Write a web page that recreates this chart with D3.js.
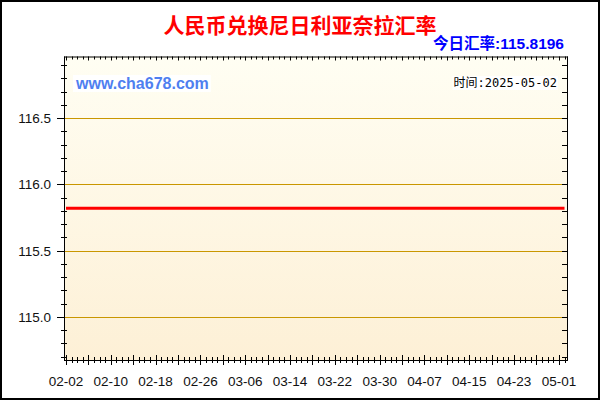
<!DOCTYPE html>
<html><head><meta charset="utf-8">
<script src="https://cdn.jsdelivr.net/npm/d3@7"></script>
<style>body{margin:0;background:#fff}svg{display:block}</style>
</head><body>
<svg id="c" width="600" height="400"></svg>
<script>
const title = "人民币兑换尼日利亚奈拉汇率";
const todayLabel = "今日汇率:115.8196";
const siteLabel = "www.cha678.com";
const timeLabel = "时间:2025-05-02";
const startDate = "2025-02-02";
const endDate = "2025-05-02";
const xTickLabels = ["02-02","02-10","02-18","02-26","03-06","03-14","03-22","03-30","04-07","04-15","04-23","05-01"];
const yTickLabels = [115.0, 115.5, 116.0, 116.5];
const yDomain = [114.674, 116.965];
// daily rates 02-02 .. 05-02 (flat)
const rates = [
115.8196,115.8196,115.8196,115.8196,115.8196,115.8196,115.8196,115.8196,115.8196,115.8196,
115.8196,115.8196,115.8196,115.8196,115.8196,115.8196,115.8196,115.8196,115.8196,115.8196,
115.8196,115.8196,115.8196,115.8196,115.8196,115.8196,115.8196,115.8196,115.8196,115.8196,
115.8196,115.8196,115.8196,115.8196,115.8196,115.8196,115.8196,115.8196,115.8196,115.8196,
115.8196,115.8196,115.8196,115.8196,115.8196,115.8196,115.8196,115.8196,115.8196,115.8196,
115.8196,115.8196,115.8196,115.8196,115.8196,115.8196,115.8196,115.8196,115.8196,115.8196,
115.8196,115.8196,115.8196,115.8196,115.8196,115.8196,115.8196,115.8196,115.8196,115.8196,
115.8196,115.8196,115.8196,115.8196,115.8196,115.8196,115.8196,115.8196,115.8196,115.8196,
115.8196,115.8196,115.8196,115.8196,115.8196,115.8196,115.8196,115.8196,115.8196,115.8196
];

const parse = d3.utcParse("%Y-%m-%d");
const t0 = parse(startDate), t1 = parse(endDate);
const days = d3.utcDay.range(t0, d3.utcDay.offset(t1, 1));
const data = days.map((d, i) => ({d, v: rates[i]}));

const svg = d3.select("#c");
const L = 64, R = 567, T = 56.5, B = 360;
const x = d3.scaleUtc().domain([t0, t1]).range([66, 564.5]);
const y = d3.scaleLinear().domain(yDomain).range([B, T]);

const defs = svg.append("defs");
const g = defs.append("linearGradient").attr("id","bg").attr("x1",0).attr("y1",0).attr("x2",0).attr("y2",1);
g.append("stop").attr("offset","0%").attr("stop-color","#FFFEF3");
g.append("stop").attr("offset","100%").attr("stop-color","#FDF0D6");

svg.append("rect").attr("x",0).attr("y",0).attr("width",600).attr("height",400).attr("fill","#fff");
svg.append("rect").attr("x",1).attr("y",1).attr("width",598).attr("height",398)
  .attr("fill","none").attr("stroke","#000").attr("stroke-width",2);

svg.append("rect").attr("x",L).attr("y",T).attr("width",R-L).attr("height",B-T).attr("fill","url(#bg)");

// grid lines
svg.append("g").selectAll("line").data(yTickLabels).join("line")
  .attr("x1",L).attr("x2",R).attr("y1",d=>Math.round(y(d))+0.5).attr("y2",d=>Math.round(y(d))+0.5)
  .attr("stroke","#C99700").attr("stroke-width",1);

// minor y ticks every 0.1
const yMinor = d3.range(Math.ceil(yDomain[0]*10), Math.floor(yDomain[1]*10)+1).map(k=>k/10);
const ax = svg.append("g").attr("stroke","#000").attr("stroke-width",1);
yMinor.forEach(v=>{
  const yy = Math.round(y(v))+0.5;
  const major = yTickLabels.some(m=>Math.abs(m-v)<1e-6);
  if (major) ax.append("line").attr("x1",57).attr("x2",L).attr("y1",yy).attr("y2",yy);
  else ax.append("line").attr("x1",61).attr("x2",67).attr("y1",yy).attr("y2",yy);
  ax.append("line").attr("x1",R-5).attr("x2",R).attr("y1",yy).attr("y2",yy);
});
// x ticks every day
days.forEach((d,i)=>{
  const xx = Math.round(x(d))+0.5;
  const major = i % 4 === 0;
  ax.append("line").attr("x1",xx).attr("x2",xx).attr("y1",major?355:357).attr("y2",major?365:363);
  ax.append("line").attr("x1",xx).attr("x2",xx).attr("y1",T).attr("y2",T+(major?4:3));
});
// frame
ax.append("line").attr("x1",L+0.5).attr("x2",L+0.5).attr("y1",T).attr("y2",B+0.5);
ax.append("line").attr("x1",R+0.5).attr("x2",R+0.5).attr("y1",T).attr("y2",B+0.5);
ax.append("line").attr("x1",L).attr("x2",R+1).attr("y1",B+0.5).attr("y2",B+0.5);
ax.append("line").attr("x1",L).attr("x2",R+1).attr("y1",T+0.5).attr("y2",T+0.5);

// y labels
svg.append("g").selectAll("text").data(yTickLabels).join("text")
  .attr("x",51).attr("y",d=>y(d)+5).attr("text-anchor","end")
  .attr("font-family","Liberation Sans, Arial, sans-serif").attr("font-size",13.5).attr("fill","#111")
  .text(d=>d.toFixed(1));
// x labels
const fmt = d3.utcFormat("%m-%d");
svg.append("g").selectAll("text").data(days.filter(d=>xTickLabels.includes(fmt(d)))).join("text")
  .attr("x",d=>x(d)).attr("y",386).attr("text-anchor","middle")
  .attr("font-family","Liberation Sans, Arial, sans-serif").attr("font-size",13.5).attr("fill","#111")
  .text(d=>fmt(d));

// line
svg.append("path").datum(data)
  .attr("d", d3.line().x(d=>x(d.d)).y(d=>y(d.v)))
  .attr("fill","none").attr("stroke","#FF0000").attr("stroke-width",3);

// site label with white box
const sr = svg.append("rect").attr("fill","#fff");
const st = svg.append("text").attr("x",76).attr("y",89)
  .attr("font-family","Liberation Sans, Arial, sans-serif").attr("font-weight","bold").attr("font-size",16)
  .attr("fill","#4F7FF0").text(siteLabel);
const sb = st.node().getBBox();
sr.attr("x",sb.x-2).attr("y",sb.y).attr("width",sb.width+4).attr("height",sb.height);

const tr = svg.append("rect").attr("fill","#fff");
const tt = svg.append("text").attr("x",557).attr("y",87).attr("text-anchor","end")
  .attr("font-family","DejaVu Sans Mono, Noto Sans CJK SC, monospace").attr("font-size",12)
  .attr("fill","#000").text(timeLabel);
const tb = tt.node().getBBox();
tr.attr("x",tb.x-1).attr("y",tb.y).attr("width",tb.width+2).attr("height",tb.height);

// title
svg.append("text").attr("x",300).attr("y",33).attr("text-anchor","middle")
  .attr("font-family","Noto Sans CJK SC, sans-serif").attr("font-weight","bold").attr("font-size",21)
  .attr("fill","#FF0000").text(title);
svg.append("text").attr("x",564).attr("y",48.5).attr("text-anchor","end")
  .attr("font-family","Liberation Sans, Noto Sans CJK SC, sans-serif").attr("font-weight","bold").attr("font-size",15.5)
  .attr("fill","#0000FF").text(todayLabel);
</script>
</body></html>
